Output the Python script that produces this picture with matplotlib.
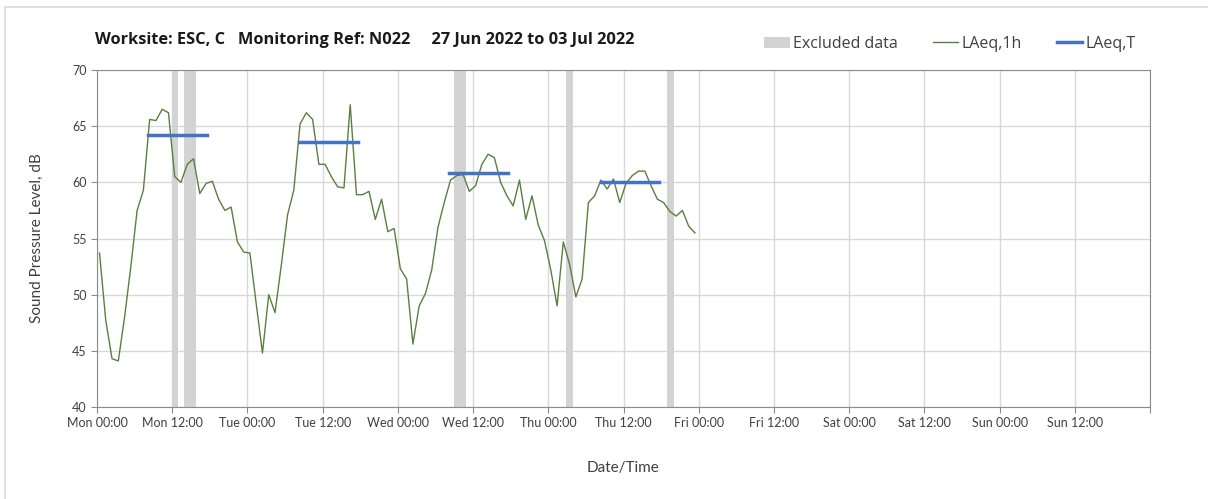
import matplotlib
matplotlib.use("Agg")
import matplotlib.pyplot as plt
from matplotlib.patches import Patch, Rectangle
from matplotlib.lines import Line2D
import numpy as np

plt.rcParams['font.family'] = ['Lato', 'DejaVu Sans']

# hourly LAeq values, first reading about 00:24 Monday
start_offset = 0.4
laeq_1h = [
    53.7, 47.7, 44.3, 44.1, 48.0, 52.5, 57.5, 59.3, 65.6, 65.5,
    66.5, 66.2, 60.5, 60.0, 61.6, 62.1, 59.0, 59.9, 60.1, 58.5,
    57.5, 57.8, 54.7, 53.8, 53.7, 49.2, 44.8, 50.0, 48.4, 52.6,
    57.1, 59.3, 65.2, 66.2, 65.6, 61.6, 61.6, 60.5, 59.6, 59.5,
    66.9, 58.9, 58.9, 59.2, 56.7, 58.5, 55.6, 55.9, 52.3, 51.4,
    45.6, 49.0, 50.1, 52.2, 56.0, 58.2, 60.2, 60.6, 60.7, 59.2,
    59.7, 61.6, 62.5, 62.2, 60.0, 58.8, 57.9, 60.2, 56.7, 58.8,
    56.2, 54.8, 52.2, 49.0, 54.7, 52.7, 49.8, 51.4, 58.2, 58.8,
    60.2, 59.4, 60.3, 58.2, 59.9, 60.6, 61.0, 61.0, 59.7, 58.5,
    58.2, 57.4, 57.0, 57.5, 56.1, 55.5,
]

# LAeq,T daytime periods (hours from Mon 00:00)
laeq_t_start = [8.2, 32.2, 56.2, 80.4]
laeq_t_end = [17.5, 41.6, 65.6, 89.6]
laeq_t_value = [64.25, 63.55, 60.8, 60.0]

# excluded data periods (hours from Mon 00:00)
excl_start = [12.0, 13.9, 56.9, 74.8, 90.9]
excl_end = [12.9, 15.8, 58.9, 75.9, 92.0]

tick_labels = ["Mon 00:00", "Mon 12:00", "Tue 00:00", "Tue 12:00", "Wed 00:00",
               "Wed 12:00", "Thu 00:00", "Thu 12:00", "Fri 00:00", "Fri 12:00",
               "Sat 00:00", "Sat 12:00", "Sun 00:00", "Sun 12:00", ""]

fig = plt.figure(figsize=(12.08, 4.99), dpi=100)
ax = fig.add_axes([97/1208, 1 - 407/499, (1150-97)/1208, (407-70)/499])

# light frame around the whole chart
fig.patches.append(Rectangle((5/1208, -0.05), 1.1, (499-7)/499 + 0.05,
                             transform=fig.transFigure, fill=False,
                             edgecolor="#d9d9d9", linewidth=1.2))

for s, e in zip(excl_start, excl_end):
    ax.axvspan(s, e, color="#d3d3d3", lw=0, zorder=1)

hours = np.arange(len(laeq_1h)) + start_offset
ax.plot(hours, laeq_1h, color="#5b7f3e", lw=1.0, zorder=3)

for s, e, v in zip(laeq_t_start, laeq_t_end, laeq_t_value):
    ax.plot([s, e], [v, v], color="#4472c4", lw=2.5, zorder=4)

ax.set_xlim(0, 168)
ax.set_ylim(40, 70)
ax.set_xticks(np.arange(0, 169, 12))
ax.set_xticklabels(tick_labels)
ax.set_yticks(np.arange(40, 71, 5))
ax.grid(True, color="#d9d9d9", lw=1.0, zorder=0)
ax.set_axisbelow(True)
for sp in ax.spines.values():
    sp.set_color("#8c8c8c")
ax.tick_params(axis="both", colors="#8c8c8c", labelcolor="#404040",
               labelsize=9, length=4)

ax.set_ylabel("Sound Pressure Level, dB", fontsize=11, color="#404040", labelpad=20)
ax.set_xlabel("Date/Time", fontsize=11, color="#404040", labelpad=23)

fig.text(95/1208, 1 - 40/499, "Worksite: ESC, C   Monitoring Ref: N022     27 Jun 2022 to 03 Jul 2022",
         fontsize=11.8, fontweight="bold", color="#1a1a1a", va="center",
         family=["Open Sans", "DejaVu Sans"])

handles = [Patch(facecolor="#d3d3d3", edgecolor="none"),
           Line2D([], [], color="#5b7f3e", lw=1.0),
           Line2D([], [], color="#4472c4", lw=2.5)]
fig.legend(handles, ["Excluded data", "LAeq,1h", "LAeq,T"], ncol=3,
           loc="center right", bbox_to_anchor=(1150/1208, 1 - 44/499),
           frameon=False, handlelength=1.6, handletextpad=0.2,
           columnspacing=2.2, labelcolor="#404040",
           prop={"family": ["Open Sans", "DejaVu Sans"], "size": 11.5})

fig.savefig("out.png", dpi=100)
